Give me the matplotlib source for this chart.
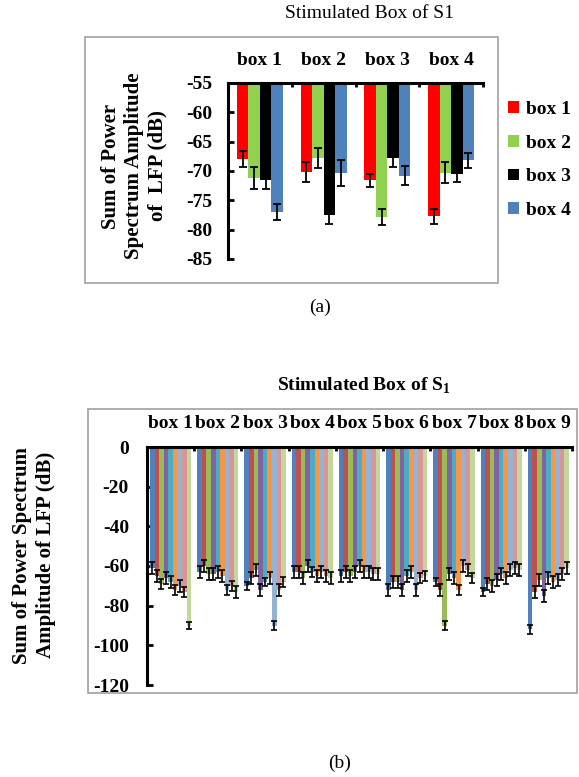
import numpy as np
import matplotlib
matplotlib.use("Agg")
import matplotlib.pyplot as plt
from matplotlib.patches import Rectangle

plt.rcParams['font.family'] = ['Liberation Serif', 'DejaVu Serif']
plt.rcParams['axes.unicode_minus'] = False
plt.rcParams['mathtext.fontset'] = 'custom'
plt.rcParams['mathtext.rm'] = 'Liberation Serif'
plt.rcParams['mathtext.bf'] = 'Liberation Serif:bold'

# panel (a): 4 stimulated boxes, 4 recorded boxes
boxes_a = ["box 1", "box 2", "box 3", "box 4"]
colors_a = ["#FF0000", "#92D050", "#000000", "#4F81BD"]
# rows = group (stimulated box), cols = series (box 1..4)
values_a = [
    [-68.0, -71.2, -71.5, -77.0],
    [-70.2, -67.8, -77.5, -70.3],
    [-71.6, -77.8, -67.8, -70.8],
    [-77.7, -70.3, -70.5, -68.2],
]
errors_a = [
    [1.4, 1.8, 1.5, 1.4],
    [1.7, 1.7, 1.5, 2.2],
    [1.1, 1.4, 1.6, 1.6],
    [1.3, 1.8, 1.3, 1.3],
]

# panel (b): 9 stimulated boxes, 9 recorded boxes
boxes_b = ["box %d" % (i + 1) for i in range(9)]
colors_b = ["#4F81BD", "#C0504D", "#9BBB59", "#8064A2", "#4BACC6",
            "#F79646", "#95B3D7", "#D99694", "#C3D69B"]
values_b = [
    [-61, -65, -69, -66, -68, -72, -70, -73, -90],
    [-63, -60, -64, -64, -63, -65, -72, -70, -73],
    [-70, -66, -62, -72, -68, -66, -90, -72, -68],
    [-63, -63, -66, -60, -63, -65, -63, -65, -66],
    [-65, -63, -65, -63, -60, -63, -63, -64, -64],
    [-72, -68, -68, -72, -65, -63, -72, -66, -65],
    [-68, -72, -90, -64, -66, -72, -60, -62, -66],
    [-73, -69, -70, -67, -64, -66, -62, -61, -62],
    [-92, -73, -67, -75, -66, -68, -67, -64, -61],
]
errors_b = [
    [3, 3, 2.5, 3, 3, 2.5, 3, 2.5, 2],
    [3, 3, 3, 3, 3, 3, 2.5, 2.5, 3],
    [2, 3, 3, 3, 2, 3, 2.5, 3, 2.5],
    [3, 3, 3, 3, 2.5, 3, 3, 3, 3],
    [3, 3, 3, 3, 3, 3, 3, 3, 3],
    [3, 3, 3, 3, 3, 3, 3, 2.5, 2.5],
    [2, 3, 2.5, 3, 3, 2.5, 3, 3, 2.5],
    [2, 3, 3, 3, 3, 3, 3, 3, 3],
    [2.5, 3, 3, 3, 3, 3, 3, 3, 3],
]

W, H = 579, 777
fig = plt.figure(figsize=(W / 100, H / 100), dpi=100)


def fig_rect(x0, y0, x1, y1):
    # pixel box (from top-left) -> figure fraction [left, bottom, width, height]
    return [x0 / W, 1 - y1 / H, (x1 - x0) / W, (y1 - y0) / H]


def style_axes(ax, n, pad):
    for s in ["right", "bottom"]:
        ax.spines[s].set_visible(False)
    for s in ["left", "top"]:
        ax.spines[s].set_linewidth(2.2)
    ax.xaxis.tick_top()
    ax.set_xlim(-0.5, n - 0.5)
    ax.set_xticks(np.arange(n) + 0.5)
    ax.set_xticklabels([])
    ax.tick_params(axis="x", which="major", direction="in", length=3, width=2)
    ax.tick_params(axis="y", direction="in", length=4, width=2, pad=pad,
                   labelsize=14)
    for lab in ax.get_yticklabels():
        lab.set_fontweight("bold")


# ---- panel (a)
fig.patches.append(Rectangle((85 / W, 1 - 283 / H), 413 / W, 246 / H,
                             transform=fig.transFigure, fill=False,
                             edgecolor="#A0A0A0", lw=1.2))
ax1 = fig.add_axes(fig_rect(228, 83, 483, 259))
top_a = -55
bw_a = 0.18
vals = np.array(values_a)
errs = np.array(errors_a)
x = np.arange(len(boxes_a))
for j in range(len(boxes_a)):
    xs = x + (j - 1.5) * bw_a
    ax1.bar(xs, vals[:, j] - top_a, bottom=top_a, width=bw_a,
            color=colors_a[j], label=boxes_a[j], zorder=2)
    ax1.errorbar(xs, vals[:, j], yerr=errs[:, j], fmt="none", ecolor="black",
                 elinewidth=1.3, capsize=3, capthick=1.3, zorder=3)
ax1.set_ylim(-85, -55)
ax1.set_yticks(np.arange(-55, -86, -5))
style_axes(ax1, len(boxes_a), 11.5)
ax1.set_xticks(x, minor=True)
ax1.set_xticklabels(boxes_a, minor=True, fontsize=14, fontweight="bold")
ax1.tick_params(axis="x", which="minor", length=0, pad=10)
fig.text(134 / W, 1 - 166 / H, "Sum of Power\nSpectrum Amplitude\nof  LFP (dB)",
         fontsize=15, fontweight="bold", linespacing=1.2, rotation=90,
         ha="center", va="center", multialignment="center")
ax1.legend(loc="upper left", bbox_to_anchor=(508 / W, 1 - 101 / H),
           bbox_transform=fig.transFigure, frameon=False,
           prop={"size": 14, "weight": "bold"}, handlelength=0.55,
           handleheight=0.55, handletextpad=0.35, labelspacing=0.86,
           borderpad=0, borderaxespad=0)
fig.text(285 / W, 1 - 14 / H, "Stimulated Box of S1", fontsize=14,
         ha="left", va="center")
fig.text(320 / W, 1 - 307 / H, "(a)", fontsize=14, ha="center", va="center")

# ---- panel (b)
fig.patches.append(Rectangle((88 / W, 1 - 693 / H), 489 / W, 284 / H,
                             transform=fig.transFigure, fill=False,
                             edgecolor="#A0A0A0", lw=1.2))
ax2 = fig.add_axes(fig_rect(147, 447, 572, 685))
bw_b = 0.097
vals = np.array(values_b)
errs = np.array(errors_b)
x = np.arange(len(boxes_b))
for j in range(len(boxes_b)):
    xs = x + (j - 4) * bw_b
    ax2.bar(xs, vals[:, j], width=bw_b, color=colors_b[j], zorder=2)
    ax2.errorbar(xs, vals[:, j], yerr=errs[:, j], fmt="none", ecolor="black",
                 elinewidth=1.2, capsize=2.4, capthick=1.2, zorder=3)
ax2.set_ylim(-120, 0)
ax2.set_yticks(np.arange(0, -121, -20))
style_axes(ax2, len(boxes_b), 13)
ax2.set_xticks(x, minor=True)
ax2.set_xticklabels(boxes_b, minor=True, fontsize=14, fontweight="bold")
ax2.tick_params(axis="x", which="minor", length=0, pad=11)
fig.text(34 / W, 1 - 555 / H, "Sum of Power Spectrum\nAmplitude of LFP (dB)",
         fontsize=15, fontweight="bold", linespacing=1.3, rotation=90,
         ha="center", va="center", multialignment="center")
fig.text(277 / W, 1 - 386 / H, "Stimulated Box of S$_\\mathbf{1}$",
         fontsize=14, fontweight="bold", ha="left", va="center")
fig.text(340 / W, 1 - 763 / H, "(b)", fontsize=14, ha="center", va="center")

fig.savefig("out.png", dpi=100)
